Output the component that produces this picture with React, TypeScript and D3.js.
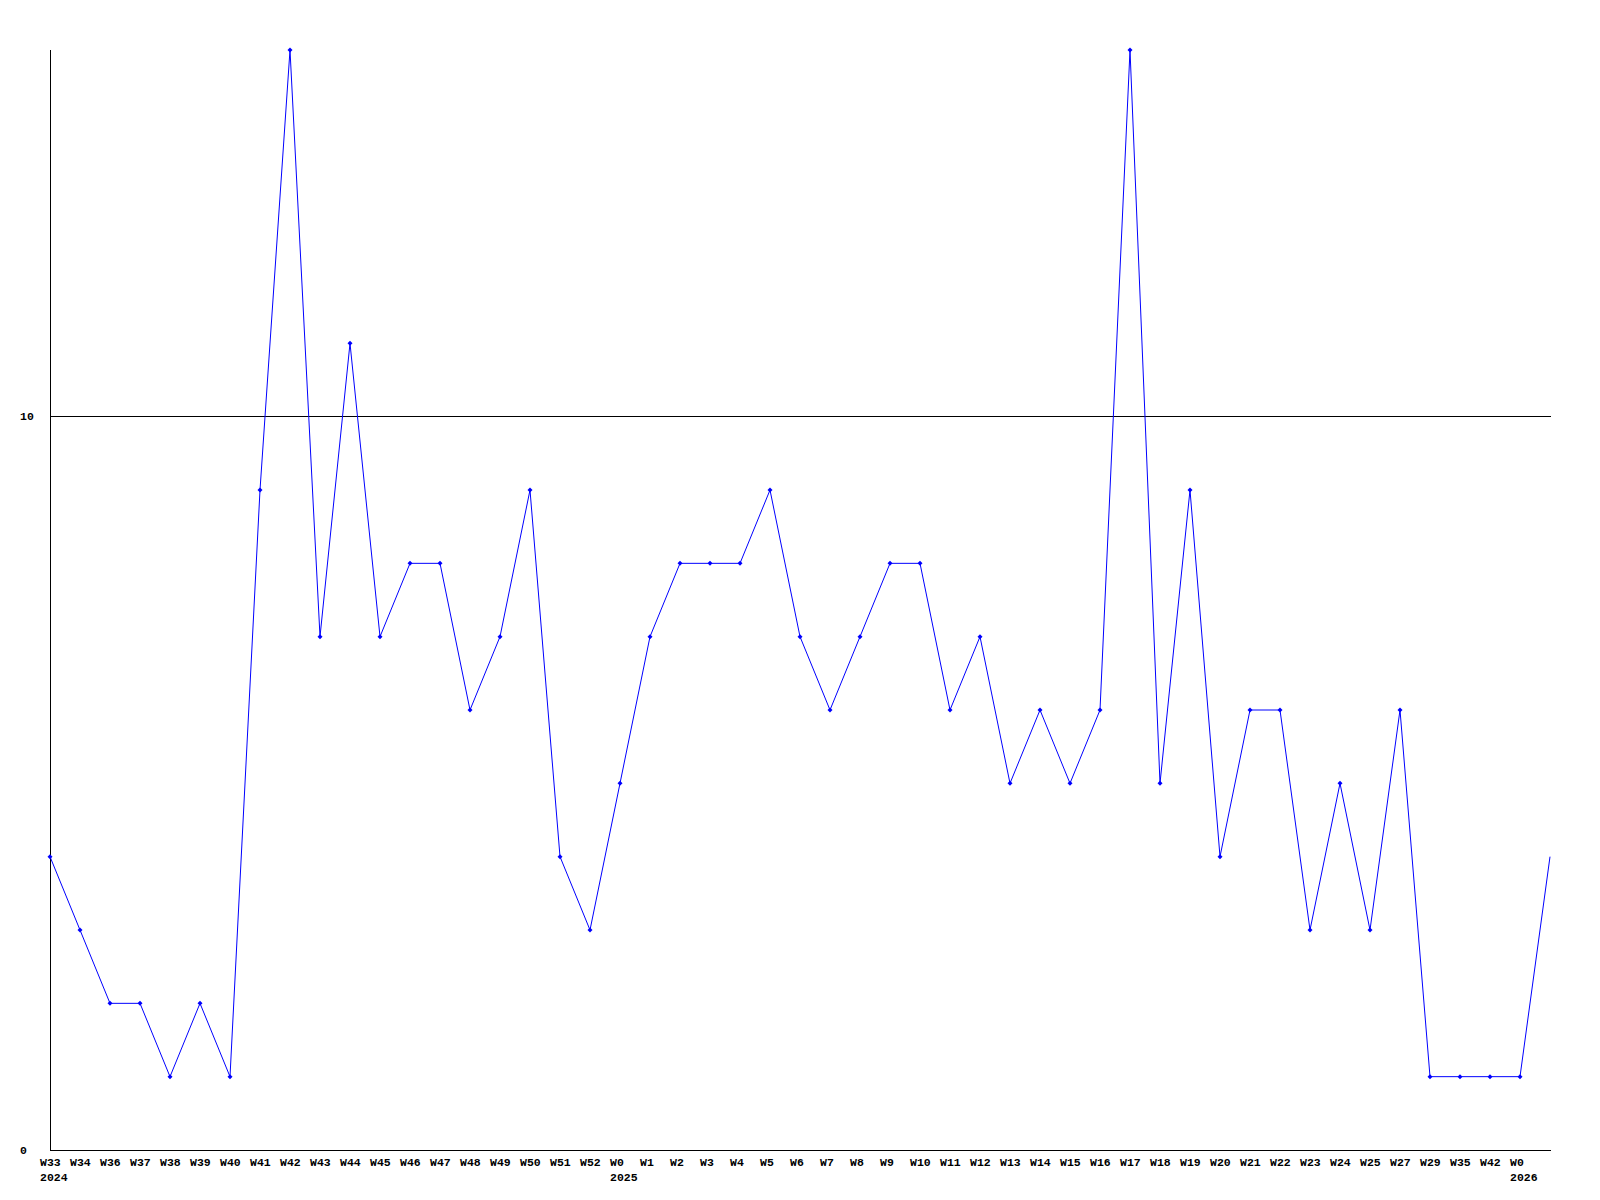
import * as d3 from 'd3';

const weekLabels = [
  'W33', 'W34', 'W36', 'W37', 'W38', 'W39', 'W40', 'W41', 'W42', 'W43',
  'W44', 'W45', 'W46', 'W47', 'W48', 'W49', 'W50', 'W51', 'W52', 'W0',
  'W1', 'W2', 'W3', 'W4', 'W5', 'W6', 'W7', 'W8', 'W9', 'W10',
  'W11', 'W12', 'W13', 'W14', 'W15', 'W16', 'W17', 'W18', 'W19', 'W20',
  'W21', 'W22', 'W23', 'W24', 'W25', 'W27', 'W29', 'W35', 'W42', 'W0',
];

const yearLabels: Array<[number, string]> = [
  [0, '2024'],
  [19, '2025'],
  [49, '2026'],
];

const counts = [
  4, 3, 2, 2, 1, 2, 1, 9, 15, 7,
  11, 7, 8, 8, 6, 7, 9, 4, 3, 5,
  7, 8, 8, 8, 9, 7, 6, 7, 8, 8,
  6, 7, 5, 6, 5, 6, 15, 5, 9, 4,
  6, 6, 3, 5, 3, 6, 1, 1, 1, 1,
  4,
];

const yTicks = [0, 10];

const W = 1600;
const H = 1200;
const left = 50;
const right = 1550;
const top = 50;
const bottom = 1150;
const font = '"Liberation Mono", "DejaVu Sans Mono", monospace';

export default function App() {
  const x = d3.scaleLinear().domain([0, counts.length - 1]).range([left, right]);
  const y = d3.scaleLinear().domain([0, 15]).range([bottom, top]);
  const path =
    d3
      .line<number>()
      .x((_, i) => x(i))
      .y((v) => y(v))(counts) ?? '';

  return (
    <svg
      width={W}
      height={H}
      viewBox={`0 0 ${W} ${H}`}
      style={{ position: 'absolute', left: 0, top: 0, background: '#fff' }}
    >
      {yTicks.map((t) => (
        <g key={t}>
          {t > 0 && (
            <line
              x1={left}
              x2={right + 1}
              y1={Math.floor(y(t)) + 0.5}
              y2={Math.floor(y(t)) + 0.5}
              stroke="#000"
              strokeWidth={1}
              shapeRendering="crispEdges"
            />
          )}
          <text x={20} y={Math.floor(y(t)) + 4} fontFamily={font} fontWeight="bold" fontSize={11.5} fill="#000">
            {t}
          </text>
        </g>
      ))}
      <line x1={left + 0.5} x2={left + 0.5} y1={top} y2={bottom} stroke="#000" strokeWidth={1} shapeRendering="crispEdges" />
      <line x1={left} x2={right + 1} y1={bottom + 0.5} y2={bottom + 0.5} stroke="#000" strokeWidth={1} shapeRendering="crispEdges" />
      <path d={path} fill="none" stroke="#0000ff" strokeWidth={1} />
      {counts.slice(0, weekLabels.length).map((v, i) => (
        <path
          key={i}
          d={`M${x(i)},${y(v) - 2.5}L${x(i) + 2.5},${y(v)}L${x(i)},${y(v) + 2.5}L${x(i) - 2.5},${y(v)}Z`}
          fill="#0000ff"
        />
      ))}
      {weekLabels.map((l, i) => (
        <text key={i} x={x(i) - 10} y={bottom + 16} fontFamily={font} fontWeight="bold" fontSize={11.5} fill="#000">
          {l}
        </text>
      ))}
      {yearLabels.map(([i, l]) => (
        <text key={l} x={x(i) - 10} y={bottom + 31} fontFamily={font} fontWeight="bold" fontSize={11.5} fill="#000">
          {l}
        </text>
      ))}
    </svg>
  );
}
